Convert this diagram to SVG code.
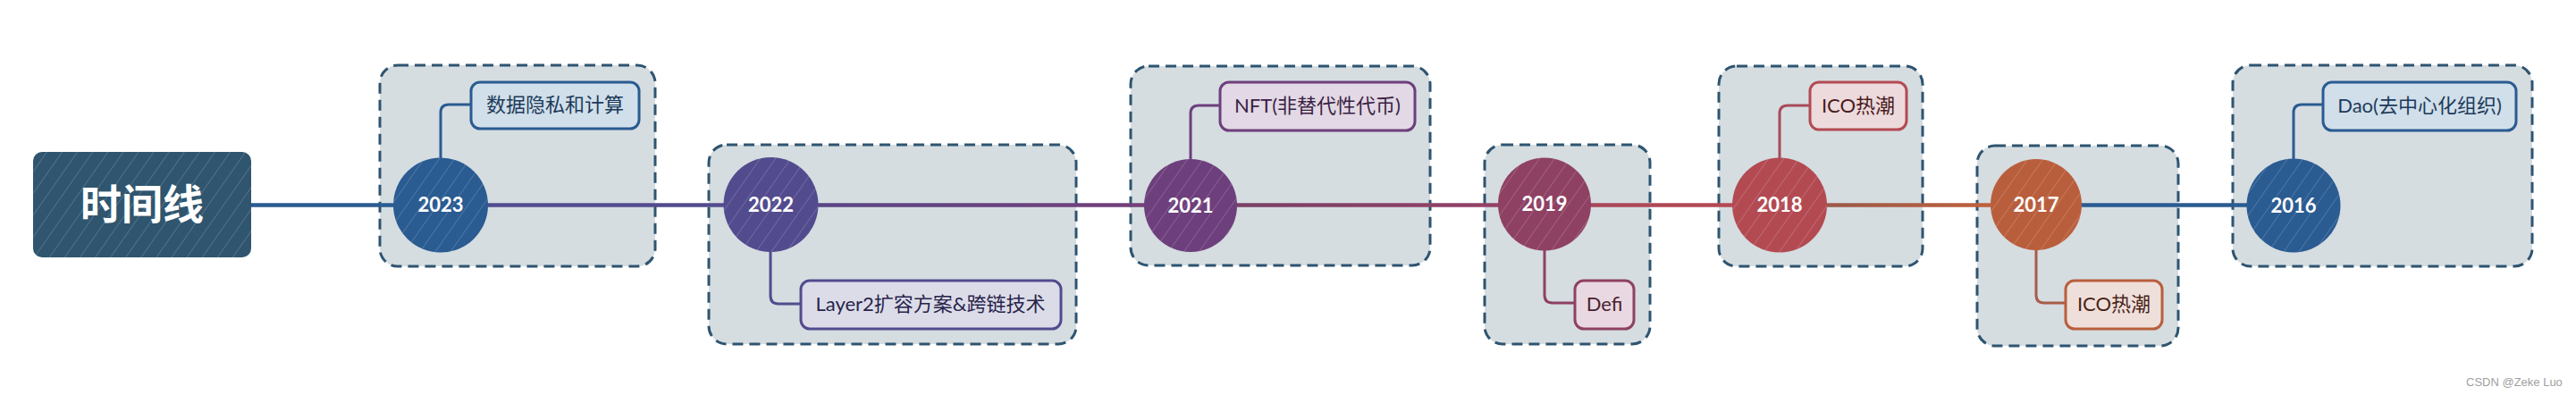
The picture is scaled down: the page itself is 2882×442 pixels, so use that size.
<svg xmlns="http://www.w3.org/2000/svg" width="2882" height="442" viewBox="0 0 2882 442">
<defs>
<style>
.grp{fill:#d5dde1;stroke:#2e5470;stroke-width:3;stroke-dasharray:12 7}
.main{fill:none;stroke-width:4.5}
.br{fill:none;stroke-width:3}
.sub{stroke-width:3}
.yr{font-family:"Lato","Open Sans",sans-serif;font-weight:700;font-size:22px;fill:#ffffff;text-anchor:middle}
.lbl{font-family:"Lato","Noto Sans CJK SC",sans-serif;font-size:22px;text-anchor:middle}
.title{font-family:"Noto Sans CJK SC",sans-serif;font-weight:700;font-size:46px;fill:#ffffff;text-anchor:middle}
.wm{font-family:"Liberation Sans",Arial,sans-serif;font-size:13px;fill:#a0a0a0}
</style>
<pattern id="hatch" patternUnits="userSpaceOnUse" width="14" height="14" patternTransform="rotate(35)">
<line x1="0" y1="0" x2="0" y2="14" stroke="#ffffff" stroke-width="1.2" stroke-opacity="0.28"/>
</pattern>
<linearGradient id="g3" gradientUnits="userSpaceOnUse" x1="916" y1="0" x2="1281" y2="0"><stop offset="0" stop-color="#5a4585"/><stop offset="1" stop-color="#74407a"/></linearGradient>
<linearGradient id="g4" gradientUnits="userSpaceOnUse" x1="1383" y1="0" x2="1676" y2="0"><stop offset="0" stop-color="#7a4068"/><stop offset="1" stop-color="#944266"/></linearGradient>
<linearGradient id="g5" gradientUnits="userSpaceOnUse" x1="1780" y1="0" x2="1938" y2="0"><stop offset="0" stop-color="#a8465a"/><stop offset="1" stop-color="#b64a52"/></linearGradient>
<linearGradient id="g6" gradientUnits="userSpaceOnUse" x1="2044" y1="0" x2="2227" y2="0"><stop offset="0" stop-color="#9a5a48"/><stop offset="1" stop-color="#c0603c"/></linearGradient>
</defs>
<rect width="2882" height="442" fill="#ffffff"/>

<g id="groups">
<rect class="grp" x="425" y="73" width="308" height="225" rx="20"/>
<rect class="grp" x="793" y="162" width="411" height="223" rx="20"/>
<rect class="grp" x="1265" y="74" width="335" height="223" rx="20"/>
<rect class="grp" x="1661" y="162" width="185" height="223" rx="20"/>
<rect class="grp" x="1923" y="74" width="228" height="224" rx="20"/>
<rect class="grp" x="2212" y="163" width="225" height="224" rx="20"/>
<rect class="grp" x="2498" y="73" width="335" height="225" rx="20"/>
</g>

<g id="connectors">
<path class="main" d="M281 229.5 H493" stroke="#2a5b91"/>
<path class="main" d="M493 229.5 H862" stroke="#524b8e"/>
<path class="main" d="M862 229.5 H1332" stroke="url(#g3)"/>
<path class="main" d="M1332 229.5 H1728" stroke="url(#g4)"/>
<path class="main" d="M1728 229.5 H1991" stroke="url(#g5)"/>
<path class="main" d="M1991 229.5 H2278" stroke="url(#g6)"/>
<path class="main" d="M2278 229.5 H2566" stroke="#2a5b91"/>
<path class="br" d="M493 180 V126 Q493 117 502 117 H528" stroke="#2a5b91"/>
<path class="br" d="M862 280 V331 Q862 340 871 340 H897" stroke="#524b8e"/>
<path class="br" d="M1332 180 V127 Q1332 118 1341 118 H1366" stroke="#6d3f7c"/>
<path class="br" d="M1728 278 V330 Q1728 339 1737 339 H1763" stroke="#8e4163"/>
<path class="br" d="M1991 180 V127 Q1991 118 2000 118 H2026" stroke="#a84a58"/>
<path class="br" d="M2278 278 V330 Q2278 339 2287 339 H2312" stroke="#a85c48"/>
<path class="br" d="M2566 180 V126 Q2566 117 2575 117 H2600" stroke="#2a5b91"/>
</g>

<g id="title">
<rect x="37" y="170" width="244" height="118" rx="10" fill="#30556f"/>
<rect x="37" y="170" width="244" height="118" rx="10" fill="url(#hatch)"/>
<text class="title" x="159" y="245">时间线</text>
</g>

<g id="y2023">
<circle cx="493" cy="229.5" r="53" fill="#2a5b91"/>
<circle cx="493" cy="229.5" r="53" fill="url(#hatch)"/>
<text class="yr" x="493" y="237">2023</text>
</g>
<g id="n2023">
<rect class="sub" x="527" y="92" width="188" height="52" rx="10" fill="#d0dfea" stroke="#2a5b91"/>
<text class="lbl" x="621" y="125" fill="#1d3a5a">数据隐私和计算</text>
</g>

<g id="y2022">
<circle cx="862.5" cy="229" r="53" fill="#524b8e"/>
<circle cx="862.5" cy="229" r="53" fill="url(#hatch)"/>
<text class="yr" x="862.5" y="237">2022</text>
</g>
<g id="n2022">
<rect class="sub" x="896" y="314" width="291" height="54" rx="10" fill="#dcdce9" stroke="#524b8e"/>
<text class="lbl" x="1041" y="348" fill="#28244a">Layer2扩容方案&amp;跨链技术</text>
</g>

<g id="y2021">
<circle cx="1332" cy="230" r="52" fill="#6d3f7c"/>
<circle cx="1332" cy="230" r="52" fill="url(#hatch)"/>
<text class="yr" x="1332" y="238">2021</text>
</g>
<g id="n2021">
<rect class="sub" x="1365" y="92" width="218" height="54" rx="10" fill="#e3d8e5" stroke="#6d3f7c"/>
<text class="lbl" x="1474" y="126" fill="#3a1f44">NFT(非替代性代币)</text>
</g>

<g id="y2019">
<circle cx="1728" cy="228.5" r="52" fill="#8e4163"/>
<circle cx="1728" cy="228.5" r="52" fill="url(#hatch)"/>
<text class="yr" x="1728" y="236">2019</text>
</g>
<g id="n2019">
<rect class="sub" x="1762" y="314" width="66" height="54" rx="10" fill="#e9d8e1" stroke="#8e4163"/>
<text class="lbl" x="1795" y="348" fill="#4a1f30">Defi</text>
</g>

<g id="y2018">
<circle cx="1991" cy="229.5" r="53" fill="#b34a52"/>
<circle cx="1991" cy="229.5" r="53" fill="url(#hatch)"/>
<text class="yr" x="1991" y="237">2018</text>
</g>
<g id="n2018">
<rect class="sub" x="2025" y="92" width="108" height="53" rx="10" fill="#eddadc" stroke="#b34a52"/>
<text class="lbl" x="2079" y="126" fill="#4a1a20">ICO热潮</text>
</g>

<g id="y2017">
<circle cx="2278" cy="229" r="51" fill="#b95e3c"/>
<circle cx="2278" cy="229" r="51" fill="url(#hatch)"/>
<text class="yr" x="2278" y="237">2017</text>
</g>
<g id="n2017">
<rect class="sub" x="2311" y="314" width="108" height="54" rx="10" fill="#efdfdb" stroke="#b95e3c"/>
<text class="lbl" x="2365" y="348" fill="#4a2418">ICO热潮</text>
</g>

<g id="y2016">
<circle cx="2566" cy="230" r="52.5" fill="#2a5b91"/>
<circle cx="2566" cy="230" r="52.5" fill="url(#hatch)"/>
<text class="yr" x="2566" y="238">2016</text>
</g>
<g id="n2016">
<rect class="sub" x="2599" y="92" width="216" height="54" rx="10" fill="#d0dfea" stroke="#2a5b91"/>
<text class="lbl" x="2707" y="126" fill="#1d3a5a">Dao(去中心化组织)</text>
</g>

<text class="wm" x="2759" y="432">CSDN @Zeke Luo</text>
</svg>
